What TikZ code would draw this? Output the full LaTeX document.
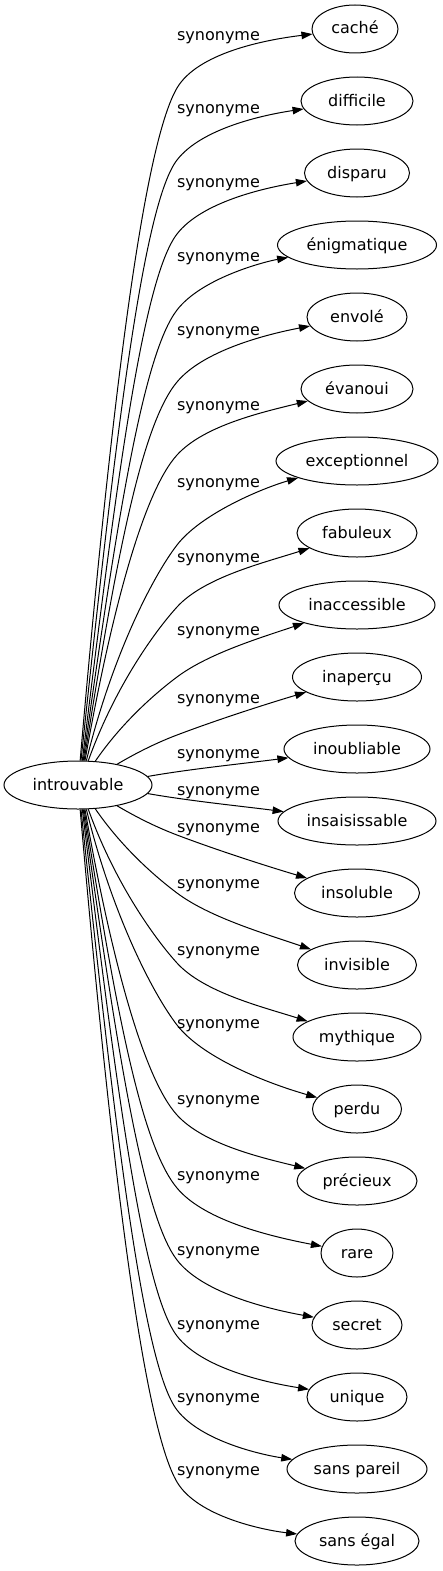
\documentclass[tikz,border=0pt]{standalone}
\usepackage{fontspec}
\setmainfont{DejaVu Sans}
\usetikzlibrary{arrows.meta,shapes.geometric}
\newcommand\myfs{\fontsize{16pt}{19pt}\selectfont}
\begin{document}
\begin{tikzpicture}[x=1pt,y=-1pt,
  tn/.style={draw, ellipse, line width=1pt, inner sep=0pt, minimum height=48pt, text height=12pt, text depth=2pt, font=\myfs},
  lab/.style={anchor=base, inner sep=0pt, font=\myfs},
  ed/.style={line width=1pt, -{Triangle[length=11pt,width=7.5pt]}}]
\useasboundingbox (0,0) rectangle (443,1571);
\node[tn, minimum width=148pt] (intro) at (78,785) {introuvable};
\node[tn, minimum width=86pt]  (n0)  at (355,29)   {caché};
\node[tn, minimum width=112pt] (n1)  at (357,101)  {difficile};
\node[tn, minimum width=105pt] (n2)  at (357,173)  {disparu};
\node[tn, minimum width=159pt] (n3)  at (357,245)  {énigmatique};
\node[tn, minimum width=100pt] (n4)  at (357,317)  {envolé};
\node[tn, minimum width=112pt] (n5)  at (357,389)  {évanoui};
\node[tn, minimum width=162pt] (n6)  at (357,461)  {exceptionnel};
\node[tn, minimum width=120pt] (n7)  at (357,533)  {fabuleux};
\node[tn, minimum width=156pt] (n8)  at (357,605)  {inaccessible};
\node[tn, minimum width=129pt] (n9)  at (357,677)  {inaperçu};
\node[tn, minimum width=146pt] (n10) at (357,749)  {inoubliable};
\node[tn, minimum width=158pt] (n11) at (357,821)  {insaisissable};
\node[tn, minimum width=125pt] (n12) at (357,893)  {insoluble};
\node[tn, minimum width=119pt] (n13) at (357,965)  {invisible};
\node[tn, minimum width=128pt] (n14) at (357,1037) {mythique};
\node[tn, minimum width=89pt]  (n15) at (357,1109) {perdu};
\node[tn, minimum width=120pt] (n16) at (357,1181) {précieux};
\node[tn, minimum width=72pt]  (n17) at (357,1253) {rare};
\node[tn, minimum width=90pt]  (n18) at (357,1325) {secret};
\node[tn, minimum width=100pt] (n19) at (357,1397) {unique};
\node[tn, minimum width=140pt] (n20) at (357,1469) {sans pareil};
\node[tn, minimum width=124pt] (n21) at (357,1541) {sans égal};
% labels
\foreach \ly [count=\i] in {36,108,182,256,330,405,482,557,630,698,753,790,827,883,950,1023,1099,1175,1250,1324,1397,1470}
  \node[lab] (l\i) at (218.5,\ly+5) {synonyme};
% upper edges
\draw[ed] (intro.85) .. controls (115,359) and (146.6,139.7) .. (177,88) .. controls (197.3,53.5) and (263,40) .. (n0);
\draw[ed] (intro.83) .. controls (115.5,433) and (143.5,203.5) .. (177,160) .. controls (201.4,128.4) and (263,115) .. (n1);
\draw[ed] (intro.80) .. controls (117.3,473.2) and (143.5,277.5) .. (177,234) .. controls (201.4,202.4) and (263,188) .. (n2);
\draw[ed] (intro.78) .. controls (117.5,515.4) and (143.5,353.5) .. (177,310) .. controls (201.4,278.4) and (263,262) .. (n3);
\draw[ed] (intro.76) .. controls (116.5,555.6) and (141.8,424.2) .. (177,382) .. controls (202.6,351.3) and (263,335) .. (n4);
\draw[ed] (intro.74) .. controls (111,613) and (143.4,492) .. (177,455) .. controls (203.9,425.4) and (263,412) .. (n5);
\draw[ed] (intro.71) .. controls (112,656) and (152.6,576.6) .. (177,545) .. controls (201.4,513.4) and (263,488) .. (n6);
\draw[ed] (intro.67) .. controls (114,689) and (153.4,633) .. (177,607) .. controls (203.9,577.4) and (263,563) .. (n7);
\draw[ed] (intro.54) .. controls (120.8,724) and (153,695) .. (177,677) .. controls (209,653) and (263,637) .. (n8);
\draw[ed] (intro.28) .. controls (138.7,751.5) and (158.3,742.1) .. (177,735) .. controls (214.4,720.8) and (263,705) .. (n9);
\draw[ed] (intro.7) .. controls (190,769) and (240,764) .. (n10);
% lower edges
\draw[ed] (intro.353) .. controls (190,801) and (240,806) .. (n11);
\draw[ed] (intro.332) .. controls (138.7,818.5) and (158.3,827.9) .. (177,835) .. controls (214.4,849.2) and (263,865) .. (n12);
\draw[ed] (intro.306) .. controls (120.8,846) and (153,875) .. (177,893) .. controls (209,917) and (263,933) .. (n13);
\draw[ed] (intro.293) .. controls (114,881) and (153.4,937) .. (177,963) .. controls (203.9,992.6) and (263,1007) .. (n14);
\draw[ed] (intro.289) .. controls (112,914) and (152.6,993.4) .. (177,1025) .. controls (201.4,1056.6) and (263,1082) .. (n15);
\draw[ed] (intro.286) .. controls (111,957) and (143.4,1078) .. (177,1115) .. controls (203.9,1144.6) and (263,1158) .. (n16);
\draw[ed] (intro.284) .. controls (116.5,1014.4) and (141.8,1145.8) .. (177,1188) .. controls (202.6,1218.7) and (263,1235) .. (n17);
\draw[ed] (intro.282) .. controls (117.5,1054.6) and (143.5,1216.5) .. (177,1260) .. controls (201.4,1291.6) and (263,1308) .. (n18);
\draw[ed] (intro.280) .. controls (117.3,1096.8) and (143.5,1292.5) .. (177,1336) .. controls (201.4,1367.6) and (263,1382) .. (n19);
\draw[ed] (intro.277) .. controls (115.5,1137) and (143.5,1366.5) .. (177,1410) .. controls (201.4,1441.6) and (263,1455) .. (n20);
\draw[ed] (intro.275) .. controls (115,1211) and (146.6,1430.3) .. (177,1482) .. controls (197.3,1516.5) and (263,1530) .. (n21);
\end{tikzpicture}
\end{document}
